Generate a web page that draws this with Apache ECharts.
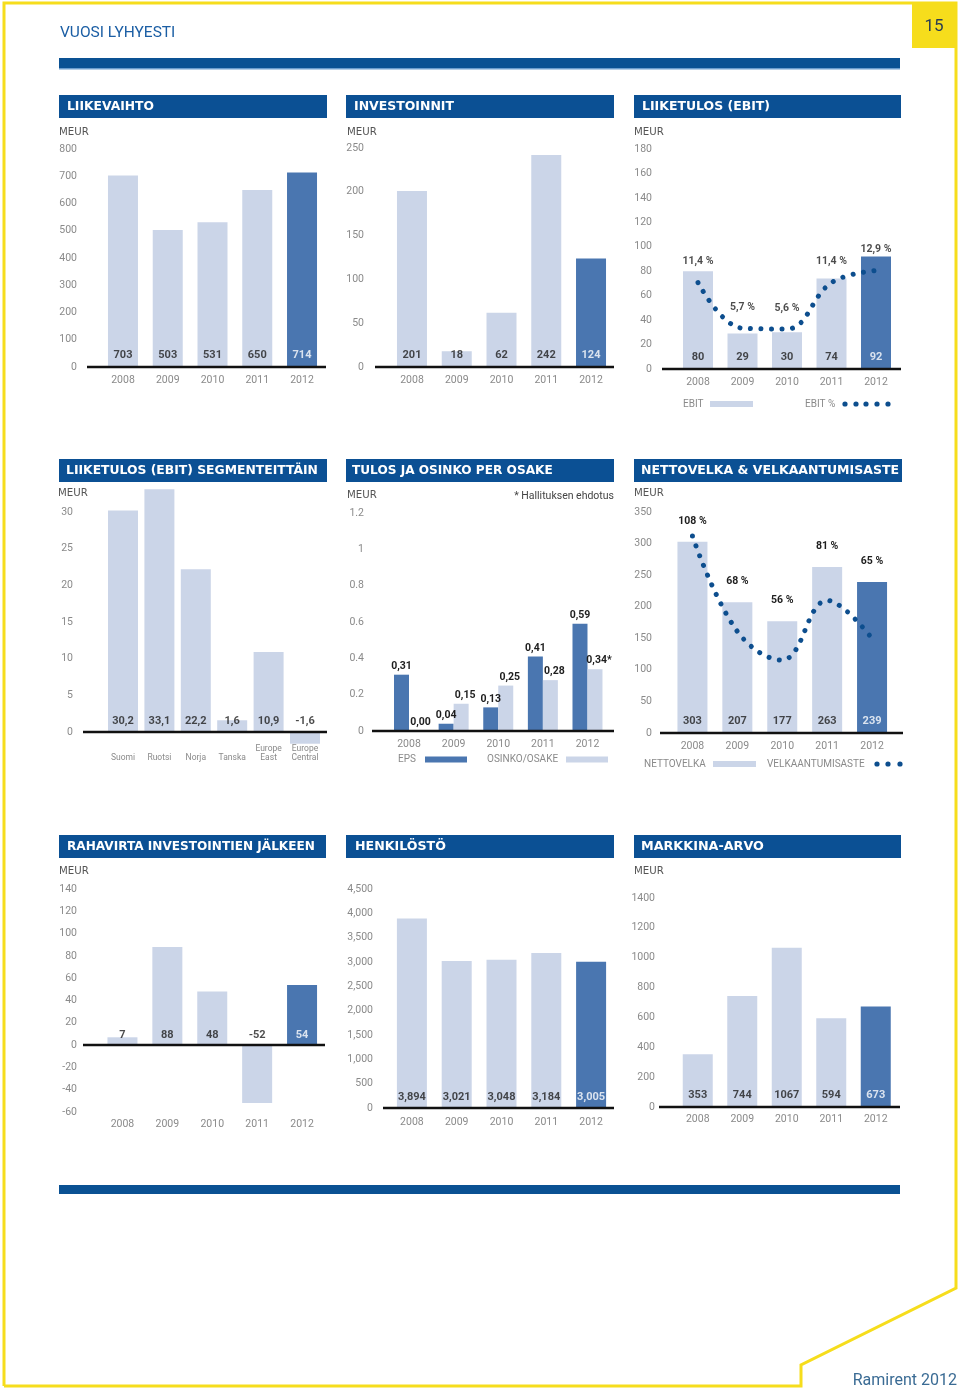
<!DOCTYPE html>
<html><head><meta charset="utf-8">
<script src="https://cdn.jsdelivr.net/npm/echarts@6/dist/echarts.min.js"></script>
<style>html,body{margin:0;padding:0;background:#fff}#c{width:960px;height:1389px}</style>
</head><body><div id="c"></div><script>
// ---------- DATA ----------
const years = ['2008', '2009', '2010', '2011', '2012'];
const liikevaihto = [703, 503, 531, 650, 714];
const investoinnit = [201, 18, 62, 242, 124];
const ebit = [80, 29, 30, 74, 92];
const ebitPct = [11.4, 5.7, 5.6, 11.4, 12.9];
const segments = ['Suomi', 'Ruotsi', 'Norja', 'Tanska', 'Europe\nEast', 'Europe\nCentral'];
const segmentEbit = [30.2, 33.1, 22.2, 1.6, 10.9, -1.6];
const eps = [0.31, 0.04, 0.13, 0.41, 0.59];
const dividend = [0.00, 0.15, 0.25, 0.28, 0.34];
const dividendNote = ['', '', '', '', '*'];
const nettovelka = [303, 207, 177, 263, 239];
const gearing = [108, 68, 56, 81, 65];
const rahavirta = [7, 88, 48, -52, 54];
const henkilosto = [3894, 3021, 3048, 3184, 3005];
const markkinaArvo = [353, 744, 1067, 594, 673];

// ---------- STYLE ----------
const LIGHT = '#cbd5e8', DARK = '#4a76b0', NAVY = '#0b5094', DOT = '#0d4e8e', GRAY = '#8a8a8a', YEL = '#f6dd1c';
const axisFont = { color: GRAY, fontSize: 10.5, fontFamily: 'Roboto' };
const commaDec = (v, d) => v.toFixed(d).replace('.', ',');
const thousands = v => String(v).replace(/\B(?=(\d{3})+(?!\d))/g, ',');
const plain = v => String(v);

const grids = [], xAxes = [], yAxes = [], series = [], panelsInfo = [];

function addPanel(p) {
  const gi = grids.length;
  grids.push({ left: p.x0, top: p.top, width: p.x1 - p.x0, height: p.bottom - p.top });
  xAxes.push({ gridIndex: gi, type: 'category', data: p.cats,
    axisLine: { show: false, onZero: false }, axisTick: { show: false }, splitLine: { show: false },
    axisLabel: Object.assign({}, axisFont, { margin: p.xm, interval: 0 }, p.xLabel || {}) });
  const yi = yAxes.length;
  yAxes.push({ gridIndex: gi, type: 'value', min: p.y[0], max: p.y[1], interval: p.y[2],
    axisLine: { show: false }, axisTick: { show: false }, splitLine: { show: false },
    axisLabel: Object.assign({}, axisFont, { margin: p.x0 - p.lblR, formatter: p.yFmt || plain }) });
  const ax = { gi, xi: gi, yi, zero: p.zero };
  panelsInfo.push(ax);
  return ax;
}

function addBars(ax, values, fmt, dist, opts) {
  opts = opts || {};
  const last = values.length - 1;
  const isDark = i => !opts.allLight && i === last;
  series.push({ type: 'bar', xAxisIndex: ax.xi, yAxisIndex: ax.yi, barWidth: 30, clip: false, silent: true, z: 2,
    data: values.map((v, i) => ({ value: v, itemStyle: { color: isDark(i) ? DARK : LIGHT } })),
    label: opts.topLabel || { show: false } });
  series.push({ type: 'scatter', xAxisIndex: ax.xi, yAxisIndex: ax.yi, symbolSize: 1, silent: true, z: 6,
    itemStyle: { color: 'rgba(0,0,0,0)' },
    data: values.map((v, i) => ({ value: [i, 0], label: { color: isDark(i) ? '#ffffff' : '#1e1e1e' } })),
    label: { show: true, position: 'top', distance: dist, fontFamily: 'Roboto', fontWeight: 'bold', fontSize: 11,
      formatter: p => fmt(values[p.dataIndex]) } });
}

function addDots(ax, values, range) {
  const yi = yAxes.length;
  yAxes.push({ gridIndex: ax.gi, type: 'value', min: range[0], max: range[1], show: false, splitLine: { show: false } });
  series.push({ type: 'line', xAxisIndex: ax.xi, yAxisIndex: yi, data: values, smooth: 0.4, symbol: 'none', silent: true, z: 4,
    lineStyle: { color: DOT, width: 5, type: [0.01, 10.5], cap: 'round' } });
  return yi;
}

// 1 LIIKEVAIHTO
const p1 = addPanel({ x0: 100.6, x1: 324.4, top: 149, bottom: 367, y: [0, 800, 100], lblR: 77, xm: 7.5, cats: years, zero: [87, 326] });
addBars(p1, liikevaihto, plain, 5.5);
// 2 INVESTOINNIT
const p2 = addPanel({ x0: 389.6, x1: 613.4, top: 148, bottom: 367, y: [0, 250, 50], lblR: 364, xm: 7.5, cats: years, zero: [375, 614] });
addBars(p2, investoinnit, plain, 5.5);
// 3 LIIKETULOS (EBIT)
const p3 = addPanel({ x0: 675.75, x1: 898.25, top: 149, bottom: 369, y: [0, 180, 20], lblR: 652, xm: 8, cats: years, zero: [662, 901] });
addBars(p3, ebit, plain, 5.5);
const p3pct = addDots(p3, ebitPct, [0.6, 28.1]);
series.push({ type: 'scatter', xAxisIndex: p3.xi, yAxisIndex: p3pct, symbolSize: 1, silent: true, z: 6,
  itemStyle: { color: 'rgba(0,0,0,0)' }, data: ebitPct.map((v, i) => [i, v]),
  label: { show: true, position: 'top', distance: 15, color: '#1e1e1e', fontFamily: 'Roboto', fontWeight: 'bold', fontSize: 10.5,
    formatter: p => commaDec(ebitPct[p.dataIndex], 1) + ' %' } });
// 4 SEGMENTEITTÄIN
const p4 = addPanel({ x0: 104.8, x1: 323.2, top: 512, bottom: 732, y: [0, 30, 5], lblR: 73, xm: 31, cats: segments, zero: [83, 327],
  xLabel: { fontSize: 8.5, lineHeight: 9.5, verticalAlign: 'bottom' } });
addBars(p4, segmentEbit, v => commaDec(v, 1), 4.5, { allLight: true });
// 5 TULOS JA OSINKO PER OSAKE
const p5 = addPanel({ x0: 386.7, x1: 609.8, top: 513, bottom: 731, y: [0, 1.2, 0.2], lblR: 364, xm: 8, cats: years, zero: [372, 614],
  yFmt: v => String(+v.toFixed(2)) });
const topLbl = { show: true, position: 'top', distance: 3, color: '#1e1e1e', fontFamily: 'Roboto', fontWeight: 'bold', fontSize: 10.5 };
series.push({ type: 'bar', name: 'EPS', xAxisIndex: p5.xi, yAxisIndex: p5.yi, barWidth: 15, barGap: '0%', silent: true,
  itemStyle: { color: DARK }, data: eps, label: Object.assign({}, topLbl, { formatter: p => commaDec(eps[p.dataIndex], 2) }) });
series.push({ type: 'bar', name: 'OSINKO/OSAKE', xAxisIndex: p5.xi, yAxisIndex: p5.yi, barWidth: 15, barGap: '0%', silent: true,
  itemStyle: { color: LIGHT }, data: dividend,
  label: Object.assign({}, topLbl, { offset: [4, 0], formatter: p => commaDec(dividend[p.dataIndex], 2) + dividendNote[p.dataIndex] }) });
// 6 NETTOVELKA
const p6 = addPanel({ x0: 670, x1: 894.5, top: 512, bottom: 733, y: [0, 350, 50], lblR: 652, xm: 8, cats: years, zero: [660, 903] });
addBars(p6, nettovelka, plain, 5.5, { topLabel: { show: true, position: 'top', distance: 15, color: '#1e1e1e',
  fontFamily: 'Roboto', fontWeight: 'bold', fontSize: 10.5, formatter: p => gearing[p.dataIndex] + ' %' } });
addDots(p6, gearing, [25.4, 118.1]);
// 7 RAHAVIRTA
const p7 = addPanel({ x0: 100, x1: 324.5, top: 889, bottom: 1112, y: [-60, 140, 20], lblR: 77, xm: 7, cats: years, zero: [83, 325] });
addBars(p7, rahavirta, plain, 3.5);
// 8 HENKILÖSTÖ
const p8 = addPanel({ x0: 389.5, x1: 613.5, top: 889, bottom: 1108, y: [0, 4500, 500], lblR: 373, xm: 9, cats: years, zero: [383, 614],
  yFmt: thousands });
addBars(p8, henkilosto, thousands, 4.5);
// 9 MARKKINA-ARVO
const p9 = addPanel({ x0: 675.5, x1: 898, top: 898, bottom: 1107, y: [0, 1400, 200], lblR: 655, xm: 7, cats: years, zero: [659, 900] });
addBars(p9, markkinaArvo, plain, 5.5);

const chart = echarts.init(document.getElementById('c'), null, { renderer: 'canvas' });
chart.setOption({ animation: false, grid: grids, xAxis: xAxes, yAxis: yAxes, series: series });

// ---------- DECORATION ----------
const headers = [
  { t: 'LIIKEVAIHTO', x: 59, y: 95, w: 268, tx: 67, tw: 87 },
  { t: 'INVESTOINNIT', x: 346, y: 95, w: 268, tx: 354, tw: 100 },
  { t: 'LIIKETULOS (EBIT)', x: 634, y: 95, w: 267, tx: 642, tw: 128 },
  { t: 'LIIKETULOS (EBIT) SEGMENTEITTÄIN', x: 59, y: 459, w: 268, tx: 66, tw: 252 },
  { t: 'TULOS JA OSINKO PER OSAKE', x: 346, y: 459, w: 268, tx: 352, tw: 201 },
  { t: 'NETTOVELKA & VELKAANTUMISASTE', x: 634, y: 459, w: 268, tx: 641, tw: 258 },
  { t: 'RAHAVIRTA INVESTOINTIEN JÄLKEEN', x: 59, y: 835, w: 267, tx: 67, tw: 248 },
  { t: 'HENKILÖSTÖ', x: 346, y: 835, w: 268, tx: 355, tw: 91 },
  { t: 'MARKKINA-ARVO', x: 634, y: 835, w: 267, tx: 641, tw: 123 }
];
const meurPos = [[59, 132], [347, 132], [634, 132], [58, 493], [347, 495], [634, 493], [59, 871], [634, 871]];

const mctx = document.createElement('canvas').getContext('2d');
function fitSize(text, target) {
  mctx.font = 'bold 13px "DejaVu Sans"';
  return 13 * target / mctx.measureText(text).width;
}
function txt(text, x, y, font, fill, align) {
  return { type: 'text', x: x, y: y, silent: true, z: 10,
    style: { text: text, font: font, fill: fill, align: align || 'left', verticalAlign: 'middle',
      textAlign: align || 'left', textVerticalAlign: 'middle' } };
}
function rect(x, y, w, h, fill) {
  return { type: 'rect', silent: true, z: 9, shape: { x: x, y: y, width: w, height: h }, style: { fill: fill } };
}
function dot(x, y) {
  return { type: 'circle', silent: true, z: 10, shape: { cx: x, cy: y, r: 2.6 }, style: { fill: DOT } };
}

const g = [];
g.push({ type: 'polyline', silent: true, z: 8,
  shape: { points: [[4, 1386], [4, 3], [956, 3], [956, 1288], [801, 1365], [801, 1386], [4, 1386]] },
  style: { stroke: YEL, lineWidth: 3, fill: null } });
g.push(rect(912, 2, 45, 46, YEL));
g.push(txt('15', 934, 27, '17px Roboto', '#2a3d52', 'center'));
g.push(txt('VUOSI LYHYESTI', 60, 33, '15.5px Roboto', '#1b5ea4'));
g.push(rect(59, 58, 841, 11, '#0a5193'));
g.push(rect(59, 68, 841, 1.5, '#6a9ccd'));
g.push(rect(59, 1185, 841, 9, '#0a5193'));
g.push(txt('Ramirent 2012', 957, 1381, '16px Roboto', '#3a6b94', 'right'));
headers.forEach(h => {
  g.push(rect(h.x, h.y, h.w, 23, NAVY));
  g.push(txt(h.t, h.tx, h.y + 12, 'bold ' + fitSize(h.t, h.tw).toFixed(2) + 'px "DejaVu Sans"', '#ffffff'));
});
meurPos.forEach(m => g.push(txt('MEUR', m[0], m[1], '10.2px "DejaVu Sans"', '#555555')));
g.push(txt('* Hallituksen ehdotus', 614, 496, '10.5px Roboto', '#444444', 'right'));
const lf = '10px Roboto';
g.push(txt('EBIT', 683, 404, lf, GRAY));
g.push(rect(710, 401, 43, 6, LIGHT));
g.push(txt('EBIT %', 805, 404, lf, GRAY));
[845, 856, 866, 877, 888].forEach(x => g.push(dot(x, 404)));
g.push(txt('EPS', 398, 759, lf, GRAY));
g.push(rect(425, 756.5, 42, 6, DARK));
g.push(txt('OSINKO/OSAKE', 487, 759, lf, GRAY));
g.push(rect(566, 756.5, 42, 6, LIGHT));
g.push(txt('NETTOVELKA', 644, 764, lf, GRAY));
g.push(rect(713, 761, 43, 6, LIGHT));
g.push(txt('VELKAANTUMISASTE', 767, 764, lf, GRAY));
[877, 888, 900].forEach(x => g.push(dot(x, 764)));
panelsInfo.forEach(ax => {
  const y0 = chart.convertToPixel({ yAxisIndex: ax.yi }, 0);
  g.push({ type: 'line', silent: true, z: 7, shape: { x1: ax.zero[0], y1: y0, x2: ax.zero[1], y2: y0 },
    style: { stroke: '#111111', lineWidth: 2.5 } });
});
chart.setOption({ graphic: { elements: g } });
</script></body></html>
